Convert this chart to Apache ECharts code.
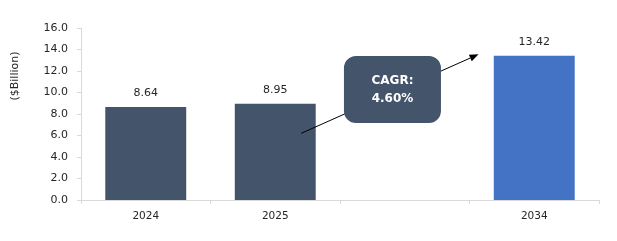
<!DOCTYPE html>
<html>
<head>
<meta charset="utf-8">
<script src="https://cdn.jsdelivr.net/npm/echarts@6/dist/echarts.min.js"></script>
<style>html,body{margin:0;padding:0;background:#fff;}#c{width:617px;height:241px;}</style>
</head>
<body>
<div id="c"></div>
<script>
var categories = ['2024', '2025', '', '2034'];
var values = [8.64, 8.95, null, 13.42];
var barColors = ['#44546A', '#44546A', '#44546A', '#4472C4'];
var yTicks = [0, 2, 4, 6, 8, 10, 12, 14, 16];
var cagrText = 'CAGR:\n4.60%';
var yAxisTitle = '($Billion)';
var arrowFrom = [1.2, 6.2];
var arrowTo = [2.57, 13.55];
var boxAt = [1.905, 10.28];

var chart = echarts.init(document.getElementById('c'), null, {renderer: 'canvas'});
var font = 'DejaVu Sans';
var option = {
  animation: false,
  backgroundColor: '#fff',
  grid: {left: 81, right: 18, top: 28, bottom: 41, containLabel: false},
  xAxis: {
    type: 'category',
    data: categories,
    axisLine: {lineStyle: {color: '#d9d9d9', width: 1}},
    axisTick: {show: true, length: 4, lineStyle: {color: '#d9d9d9'}},
    axisLabel: {color: '#262626', fontFamily: font, fontSize: 10.5, margin: 11}
  },
  yAxis: {
    type: 'value',
    min: yTicks[0],
    max: yTicks[yTicks.length - 1],
    interval: 2,
    axisLine: {show: true, lineStyle: {color: '#d9d9d9', width: 1}},
    axisTick: {show: true, length: 4, lineStyle: {color: '#d9d9d9'}},
    splitLine: {show: false},
    axisLabel: {color: '#262626', fontFamily: font, fontSize: 11, margin: 13,
      formatter: function (v) { return v.toFixed(1); }}
  },
  series: [{
    type: 'bar',
    barWidth: '62.5%',
    data: values.map(function (v, i) { return {value: v, itemStyle: {color: barColors[i]}}; }),
    label: {show: true, position: 'top', distance: 8, color: '#262626', fontFamily: font, fontSize: 11,
      formatter: function (p) { return p.value == null ? '' : p.value.toFixed(2); }}
  }]
};
chart.setOption(option);

function toPx(pt) {
  var i = Math.floor(pt[0]), f = pt[0] - i;
  var a = chart.convertToPixel({gridIndex: 0}, [i, pt[1]]);
  var b = chart.convertToPixel({gridIndex: 0}, [i + 1, pt[1]]);
  return [a[0] + f * (b[0] - a[0]), a[1]];
}
var p1 = toPx(arrowFrom);
var p2 = toPx(arrowTo);
var ang = Math.atan2(p2[1] - p1[1], p2[0] - p1[0]);
var ah = 9, aw = 3.5;
var bx = p2[0] - ah * Math.cos(ang), by = p2[1] - ah * Math.sin(ang);
var head = [
  [p2[0], p2[1]],
  [bx + aw * Math.sin(ang), by - aw * Math.cos(ang)],
  [bx - aw * Math.sin(ang), by + aw * Math.cos(ang)]
];
var boxC = toPx(boxAt);
chart.setOption({
  graphic: [
    {type: 'line', shape: {x1: p1[0], y1: p1[1], x2: bx, y2: by}, style: {stroke: '#000', lineWidth: 1}, z: 10},
    {type: 'polygon', shape: {points: head}, style: {fill: '#000'}, z: 10},
    {type: 'rect', shape: {x: boxC[0] - 48.5, y: boxC[1] - 33.5, width: 97, height: 67, r: 12},
      style: {fill: '#44546A'}, z: 11},
    {type: 'text', x: boxC[0], y: boxC[1], z: 12,
      style: {text: cagrText, fill: '#fff', font: 'bold 12px "DejaVu Sans"', align: 'center', verticalAlign: 'middle', lineHeight: 18}},
    {type: 'text', x: 15, y: 76, rotation: Math.PI / 2, z: 12,
      style: {text: yAxisTitle, fill: '#262626', font: '11px "DejaVu Sans"', align: 'center', verticalAlign: 'middle'}}
  ]
});
</script>
</body>
</html>
